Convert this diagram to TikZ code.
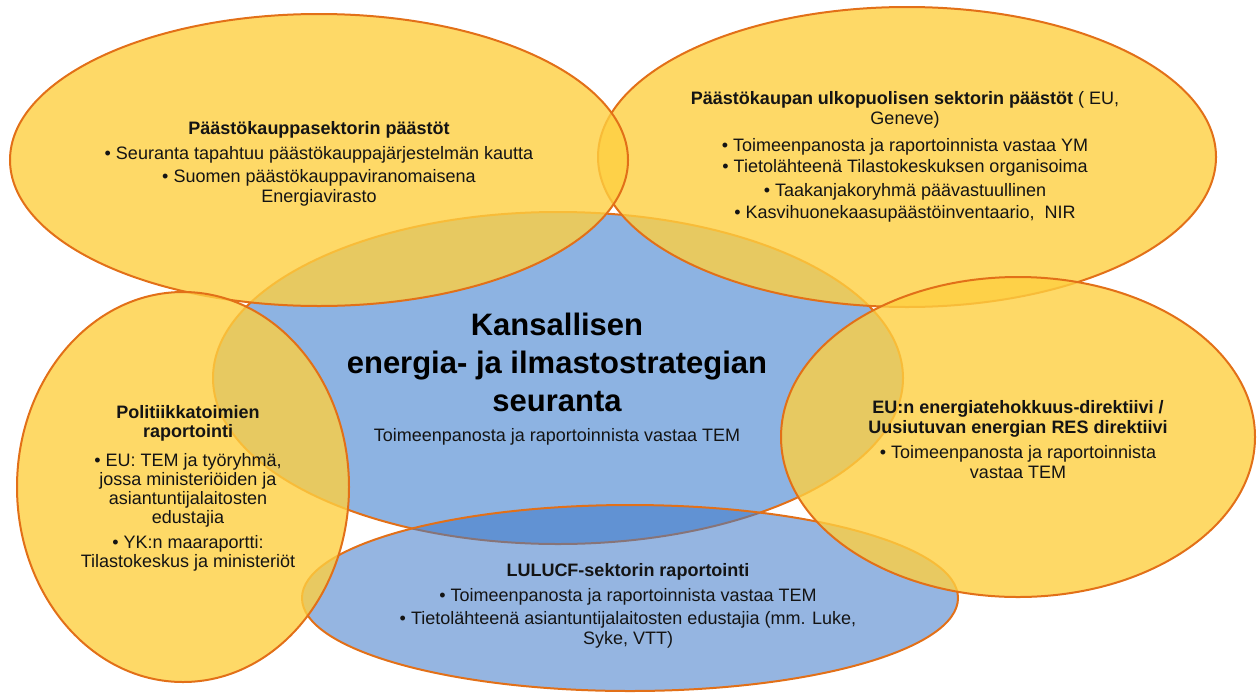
\documentclass[tikz,border=0pt]{standalone}
\usepackage{fontspec}
\setmainfont{Liberation Sans}
\usetikzlibrary{shapes.geometric}
\definecolor{ygold}{RGB}{254,207,65}
\definecolor{oline}{RGB}{226,112,24}
\definecolor{cblue}{RGB}{141,179,226}
\definecolor{bblue}{RGB}{62,120,200}
\definecolor{ink}{RGB}{20,20,20}
\tikzset{
  blob/.style={ellipse, inner sep=0pt, draw=oline, line width=2pt},
  yblob/.style={blob, fill=ygold, fill opacity=0.8},
  cblob/.style={blob, fill=cblue},
  bblob/.style={blob, fill=bblue, fill opacity=0.55},
  txt/.style={align=center, text=ink, font=\fontsize{18}{20}\selectfont, inner sep=0pt},
  txtl/.style={align=center, text=ink, font=\fontsize{18}{19}\selectfont, inner sep=0pt},
  bigtxt/.style={align=center, text=black, font=\fontsize{31}{38}\selectfont\bfseries, inner sep=0pt}
}
\begin{document}
\begin{tikzpicture}[x=1pt,y=-1pt]
\useasboundingbox (0,0) rectangle (1257,699);
% shapes
\node[cblob, minimum width=690pt, minimum height=332pt] (central) at (558,378) {};
\node[bblob, minimum width=656pt, minimum height=186pt] (lulucf) at (630,598) {};
\node[yblob, minimum width=618pt, minimum height=300pt] (tr) at (907,157) {};
\node[yblob, minimum width=618pt, minimum height=292pt] (tl) at (319,160) {};
\node[yblob, minimum width=332pt, minimum height=390pt] (left) at (183,487) {};
\node[yblob, minimum width=474pt, minimum height=320pt] (right) at (1018,437) {};
% texts
\node[txt] (tltext) at (319,164) {\textbf{Päästökauppasektorin päästöt}\\[5pt]
 • Seuranta tapahtuu päästökauppajärjestelmän kautta\\[3pt]
 • Suomen päästökauppaviranomaisena\\ Energiavirasto};
\node[txt] (trtext) at (905,157) {\textbf{Päästökaupan ulkopuolisen sektorin päästöt} ( EU,\\ Geneve)\\[7pt]
 • Toimeenpanosta ja raportoinnista vastaa YM\\[1pt]
 • Tietolähteenä Tilastokeskuksen organisoima\\[4pt]
 • Taakanjakoryhmä päävastuullinen\\[2pt]
 • Kasvihuonekaasupäästöinventaario,\ \ NIR};
\node[txtl] (lefttext) at (188,488) {\textbf{Politiikkatoimien}\\ \textbf{raportointi}\\[10pt]
 • EU: TEM ja työryhmä,\\ jossa ministeriöiden ja\\ asiantuntijalaitosten\\ edustajia\\[6pt]
 • YK:n maaraportti:\\ Tilastokeskus ja ministeriöt};
\node[txt] (righttext) at (1018,440) {\textbf{EU:n energiatehokkuus-direktiivi /}\\ \textbf{Uusiutuvan energian RES direktiivi}\\[5pt]
 • Toimeenpanosta ja raportoinnista\\ vastaa TEM};
\node[bigtxt] (ctitle) at (557,362) {Kansallisen\\ energia- ja ilmastostrategian\\ seuranta};
\node[txt] (csub) at (557,437) {Toimeenpanosta ja raportoinnista vastaa TEM};
\node[txt] (btext) at (628,606) {\textbf{LULUCF-sektorin raportointi}\\[5pt]
 • Toimeenpanosta ja raportoinnista vastaa TEM\\[3pt]
 • Tietolähteenä asiantuntijalaitosten edustajia (mm. Luke,\\ Syke, VTT)};
\end{tikzpicture}
\end{document}
